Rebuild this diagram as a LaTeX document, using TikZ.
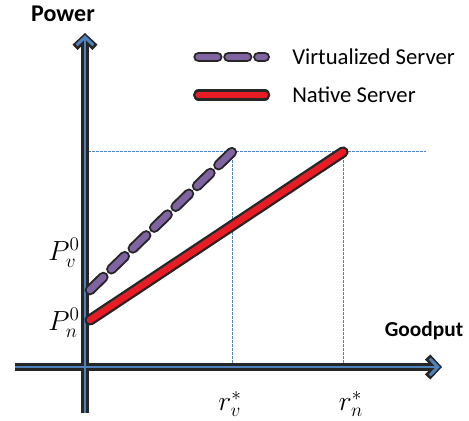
\documentclass[tikz,border=0pt]{standalone}
\usepackage{fontspec}
\newfontfamily\calib{Carlito}
\usetikzlibrary{arrows.meta}
\definecolor{axblue}{RGB}{79,129,189}
\definecolor{virtpurple}{RGB}{128,100,162}
\definecolor{natred}{RGB}{232,28,36}
\tikzset{
  axisout/.style={draw=black!85, line width=5.5pt,
    -{Straight Barb[length=7pt,width=15pt,line join=miter]}},
  axisin/.style={draw=axblue, line width=2.2pt, shorten >=1.6pt,
    -{Straight Barb[length=6pt,width=12.5pt,line join=miter]}},
  guide/.style={draw=axblue, line width=0.5pt, dash pattern=on 2pt off 1pt},
  virtout/.style={draw=black!85, line width=8pt, line cap=round, dash pattern=on 13.9pt off 8.5pt},
  virtin/.style={draw=virtpurple, line width=5pt, line cap=round, dash pattern=on 13.9pt off 8.5pt},
  natout/.style={draw=black!85, line width=8.5pt, line cap=round},
  natin/.style={draw=natred, line width=5pt, line cap=round},
  axlabel/.style={font=\calib\bfseries\fontsize{16}{19}\selectfont, inner sep=0pt},
  leglabel/.style={font=\calib\fontsize{17}{20}\selectfont, inner sep=0pt, anchor=west},
  mathlabel/.style={font=\fontsize{22}{26}\selectfont, inner sep=0pt}
}
\begin{document}
\begin{tikzpicture}[x=0.75pt, y=-0.75pt]
  \useasboundingbox (0,0) rectangle (469,421);

  % axes
  \coordinate (xs) at (15,367);
  \coordinate (xe) at (442,367);
  \coordinate (ys) at (85,413);
  \coordinate (ye) at (85,33);
  \node[axlabel, font=\calib\bfseries\fontsize{18}{21}\selectfont] (pw) at (63,14) {Power};
  \node[axlabel] (gp) at (424,331) {Goodput};

  % line ends
  \coordinate (v0) at (90,290);
  \coordinate (ve) at (232,152);
  \coordinate (n0) at (90,320);
  \coordinate (ne) at (343,152);
  \coordinate (he) at (426,151);

  \draw[guide] (88,151) -- (he);
  \draw[guide] (ve) -- (ve |- xs);
  \draw[guide] (ne) -- (ne |- xs);

  \draw[axisout] (xs) -- (xe);
  \draw[axisout] (ys) -- (ye);
  \draw[axisin] (xs) -- (xe);
  \draw[axisin] (ys) -- (ye);

  \draw[natout] (n0) -- (ne);
  \draw[natin]  (n0) -- (ne);
  \draw[virtout] (v0) -- (ve);
  \draw[virtin]  (v0) -- (ve);

  \node[mathlabel, anchor=east] (pv) at (80,253) {$P_v^{0}$};
  \node[mathlabel, anchor=east] (pn) at (80,323) {$P_n^{0}$};
  \node[mathlabel] (rv) at (230,404) {$r_v^{*}$};
  \node[mathlabel] (rn) at (351,404) {$r_n^{*}$};

  % legend
  \node[leglabel] (lv) at (292,57) {Virtualized Server};
  \node[leglabel] (ln) at (292,95) {Native Server};
  \coordinate (lv1) at ([xshift=-70pt]lv.west);
  \coordinate (lv2) at ([xshift=-20.5pt]lv.west);
  \coordinate (ln1) at ([xshift=-70pt]ln.west);
  \coordinate (ln2) at ([xshift=-20.5pt]ln.west);
  \draw[virtout] (lv1) -- (lv2);
  \draw[virtin]  (lv1) -- (lv2);
  \draw[natout] (ln1) -- (ln2);
  \draw[natin]  (ln1) -- (ln2);
\end{tikzpicture}
\end{document}
